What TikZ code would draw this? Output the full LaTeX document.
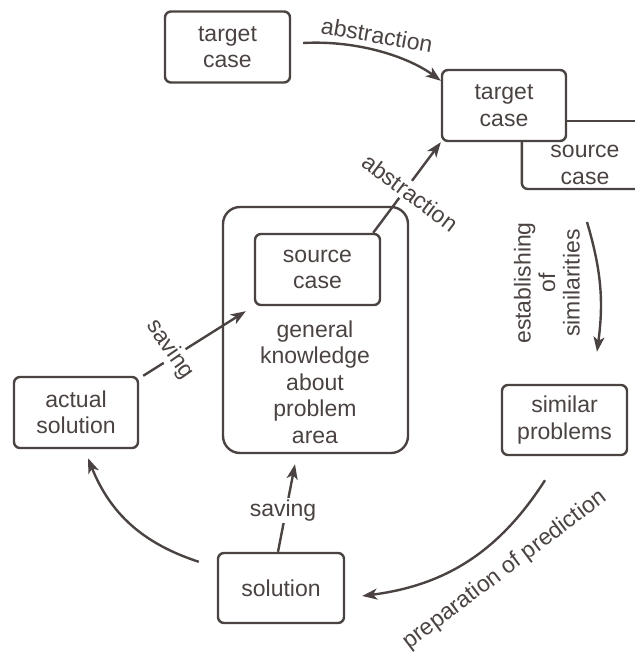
\documentclass[tikz,border=0pt]{standalone}
\usepackage{fontspec}
\setmainfont{Liberation Sans}
\usetikzlibrary{arrows.meta,calc}
\definecolor{ink}{HTML}{4A4341}
\begin{document}
\begin{tikzpicture}[x=1pt,y=-1pt,
  every node/.style={text=ink, font=\fontsize{23}{26.5}\selectfont},
  box/.style={draw=ink, line width=2.4pt, rounded corners=6pt, minimum width=125pt, minimum height=71pt, align=center, inner sep=0pt},
  arr/.style={draw=ink, line width=2.4pt, -{Stealth[length=15pt,width=11pt,inset=4pt]}},
  lbl/.style={fill=white, inner sep=2pt, align=center},
  plain/.style={draw=ink, line width=2.4pt}]
\useasboundingbox (0,0) rectangle (634,652);

% boxes
\node[box] (t1) at (227.5,47) {target\\case};
\node[box, minimum width=124pt] (t2) at (504,105.5) {target\\case};
\node[box, minimum width=124pt] (as) at (76,412.5) {actual\\solution};
\node[box, minimum width=126pt, minimum height=70pt] (sol) at (281,588) {solution};
\node[box, minimum height=70pt] (sim) at (564.5,420) {similar\\problems};
\node[plain, rounded corners=17pt, minimum width=185pt, minimum height=246pt] (kb) at (315.5,330) {};
\node[box] (src) at (317.5,269.5) {source\\case};
\node[align=center] (gk) at (315,382) {general\\knowledge\\about\\problem\\area};

% partial source case
\draw[plain] ([yshift=-15.5pt]t2.east) -- ++(80,0);
\draw[plain, rounded corners=6pt] ([xshift=81pt]t2.south west) |- (640,189);
\node[align=center] (sc) at (585,165) {source\\case};

% abstraction (top)
\draw[arr] ([xshift=12pt,yshift=4pt]t1.east) .. controls (360,40) and (410,58) .. ([yshift=-12pt]t2.north west);
\node[rotate=-10] (la1) at (377,35) {abstraction};

% abstraction (diagonal)
\draw[arr] ([xshift=-8pt]src.north east) -- (t2.south west)
  node[lbl, pos=0.48, xshift=4.6pt, yshift=-3.5pt, rotate=-37] {abstraction};

% saving (left)
\draw[arr] ([xshift=4pt]as.north east) -- ([xshift=-8pt,yshift=-5pt]src.south west)
  node[lbl, pos=0.3, xshift=-4pt, yshift=7pt, rotate=-55] {saving};

% saving (bottom)
\draw[arr] ([xshift=-3pt]sol.north) -- ([xshift=-20.5pt,yshift=-10pt]kb.south)
  node[lbl, pos=0.47, xshift=-3pt] {saving};

% solution -> actual solution
\draw[arr] ([xshift=-18pt,yshift=-10pt]sol.north west) to[bend left=25] ([xshift=12pt,yshift=-9pt]as.south);

% establishing of similarities
\coordinate (e1) at (587,222);
\draw[arr] (e1) to[bend left=12] ([xshift=32.5pt,yshift=32pt]sim.north);
\node[rotate=90, align=center, font=\fontsize{23}{24.5}\selectfont] (le) at (547,283) {establishing\\of\\similarities};

% preparation of prediction
\draw[arr] ([xshift=-19.5pt,yshift=-24pt]sim.south) to[bend left=25] ([xshift=17pt,yshift=-8pt]sol.east);
\node[rotate=37] (lp) at (505,570) {preparation of prediction};
\end{tikzpicture}
\end{document}
